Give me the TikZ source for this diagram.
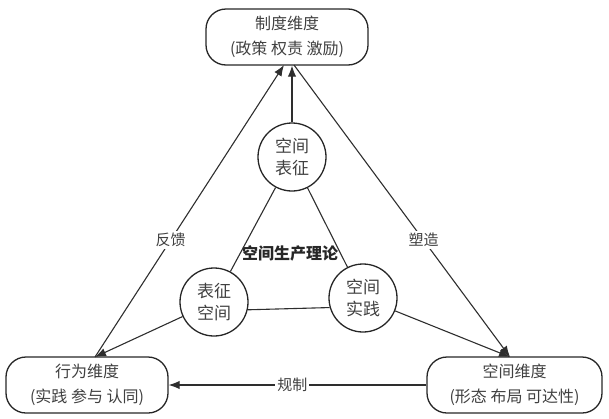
\documentclass[tikz,border=0pt]{standalone}
\usepackage{fontspec}
\newfontfamily\cjk{Noto Sans CJK SC}
\usetikzlibrary{arrows.meta}
\begin{document}
\begin{tikzpicture}[x=1pt,y=-1pt,
  dimbox/.style={draw=black!85, line width=1.3pt, rounded corners=20pt, minimum width=162pt, minimum height=56pt, align=center, font=\cjk\fontsize{16}{25}\selectfont, text=black!75, inner sep=0pt},
  circ/.style={draw=black!85, line width=1.3pt, circle, minimum size=68pt, inner sep=0pt, align=center, font=\cjk\fontsize{17}{22}\selectfont, text=black!75},
  conn/.style={draw=black!82, line width=1.1pt},
  arr/.style={conn, -{Latex[length=11pt,width=8.5pt]}},
  lbl/.style={fill=white, font=\cjk\fontsize{15}{16}\selectfont, text=black!75, inner sep=2pt}]
\useasboundingbox (0,0) rectangle (609,418);
\node[dimbox] (top) at (287,37) {制度维度\\(政策 权责 激励)};
\node[dimbox] (left) at (87,385) {行为维度\\(实践 参与 认同)};
\node[dimbox, minimum width=175pt] (right) at (514.5,385) {空间维度\\(形态 布局 可达性)};
\node[circ] (tc) at (292,157) {空间\\表征};
\node[circ] (lc) at (214,302) {表征\\空间};
\node[circ] (rc) at (363,298) {空间\\实践};
\node[font=\cjk\bfseries\fontsize{16}{18}\selectfont, text=black!85] (theory) at (290,253) {空间生产理论};
\coordinate (tA) at (284,65);
\coordinate (tC) at (294,65);
\coordinate (lA) at (95,357);
\coordinate (rA) at (510,357);
\draw[conn] (tc) -- (lc);
\draw[conn] (tc) -- (rc);
\draw[conn] (lc.-13) -- (rc.196);
\draw[arr] (tc) -- (tc.north |- top.south);
\draw[arr] (lc) -- (lA);
\draw[arr] (rc) -- (rA);
\draw[arr] (lA) -- (tA) node[lbl, pos=0.40] (fk) {反馈};
\draw[arr] (tC) -- (rA) node[lbl, pos=0.60] (sz) {塑造};
\draw[arr] (right.west) -- (left.east) node[lbl, pos=0.52] (gz) {规制};
\end{tikzpicture}
\end{document}
